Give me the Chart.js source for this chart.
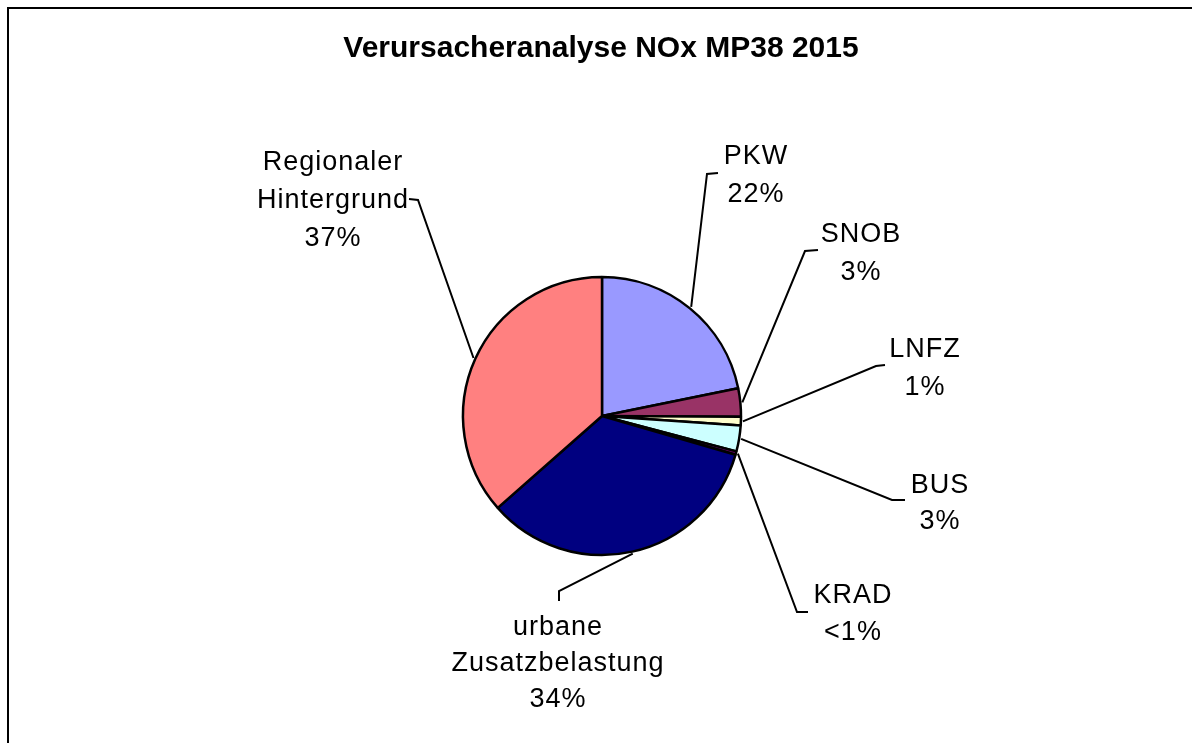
<!DOCTYPE html>
<html>
<head>
<meta charset="utf-8">
<title>Verursacheranalyse NOx MP38 2015</title>
<script src="https://cdn.jsdelivr.net/npm/chart.js@4"></script>
<style>
    html, body { margin: 0; padding: 0; background: #fff; }
    #wrap { width: 1192px; height: 743px; position: relative; }
</style>
</head>
<body>
<div id="wrap"><canvas id="noxChart"></canvas></div>
<script>
// Data
const chartTitle = 'Verursacheranalyse NOx MP38 2015';
const sourceLines = [['PKW'], ['SNOB'], ['LNFZ'], ['BUS'], ['KRAD'], ['urbane', 'Zusatzbelastung'], ['Regionaler', 'Hintergrund']];
const sources = sourceLines.map(l => l.join(' '));
const shares = [21.8, 3.3, 1.0, 3.0, 0.4, 34.0, 36.5];
const shareLabels = ['22%', '3%', '1%', '3%', '<1%', '34%', '37%'];
const sliceColors = ['#9999FF', '#993366', '#FFFFCC', '#CCFFFF', '#660066', '#000080', '#FF8080'];

// Where each label sits and how its leader line bends (label side)
const labelLayout = [
    { x: 756, y: 164, lh: 38, elbow: [707, 174], end: [718, 173] },
    { x: 861, y: 242, lh: 38, elbow: [805, 251], end: [818, 250] },
    { x: 925, y: 357, lh: 38, elbow: [876, 366], end: [885, 365] },
    { x: 940, y: 493, lh: 36, elbow: [892, 500], end: [905, 500] },
    { x: 853, y: 603, lh: 37, elbow: [797, 612], end: [808, 612] },
    { x: 558, y: 635, lh: 36, elbow: [559, 591], end: [559, 601] },
    { x: 333, y: 170, lh: 38, elbow: [418, 200], end: [409, 199] }
];

const FONT = '"Liberation Sans", Arial, sans-serif';

// Frame, title, labels and leader lines
const labelPlugin = {
    id: 'excelLabels',
    afterDraw(chart) {
        const ctx = chart.ctx;
        const meta = chart.getDatasetMeta(0);
        ctx.save();

        // outer frame (cut off at right and bottom)
        ctx.strokeStyle = '#000';
        ctx.lineWidth = 2;
        ctx.beginPath();
        ctx.moveTo(8, chart.height + 5);
        ctx.lineTo(8, 8);
        ctx.lineTo(chart.width + 5, 8);
        ctx.stroke();

        // title
        ctx.fillStyle = '#000';
        ctx.textAlign = 'center';
        ctx.textBaseline = 'alphabetic';
        ctx.font = 'bold 30px ' + FONT;
        ctx.fillText(chartTitle, 601, 57);

        meta.data.forEach((arc, i) => {
            const p = arc.getProps(['x', 'y', 'startAngle', 'endAngle', 'outerRadius'], true);
            const mid = (p.startAngle + p.endAngle) / 2;
            const ax = p.x + Math.cos(mid) * (p.outerRadius + 2);
            const ay = p.y + Math.sin(mid) * (p.outerRadius + 2);
            const lay = labelLayout[i];

            ctx.lineWidth = 2;
            ctx.beginPath();
            ctx.moveTo(ax, ay);
            ctx.lineTo(lay.elbow[0], lay.elbow[1]);
            ctx.lineTo(lay.end[0], lay.end[1]);
            ctx.stroke();

            ctx.font = '27px ' + FONT;
            ctx.letterSpacing = '1px';
            const lines = sourceLines[i].concat([shareLabels[i]]);
            lines.forEach((t, k) => {
                ctx.fillText(t, lay.x, lay.y + k * lay.lh);
            });
        });
        ctx.restore();
    }
};

function createNoxChart() {
    const ctx = document.getElementById('noxChart').getContext('2d');
    new Chart(ctx, {
        type: 'pie',
        data: {
            labels: sources,
            datasets: [{
                data: shares,
                backgroundColor: sliceColors,
                borderColor: '#000',
                borderWidth: 2.5,
                radius: 139
            }]
        },
        options: {
            responsive: true,
            maintainAspectRatio: false,
            animation: false,
            events: [],
            layout: {
                padding: { top: 276, bottom: 187, left: 300, right: 288 }
            },
            plugins: {
                legend: { display: false },
                tooltip: { enabled: false },
                title: { display: false }
            }
        },
        plugins: [labelPlugin]
    });
}

document.addEventListener('DOMContentLoaded', createNoxChart);
</script>
</body>
</html>
